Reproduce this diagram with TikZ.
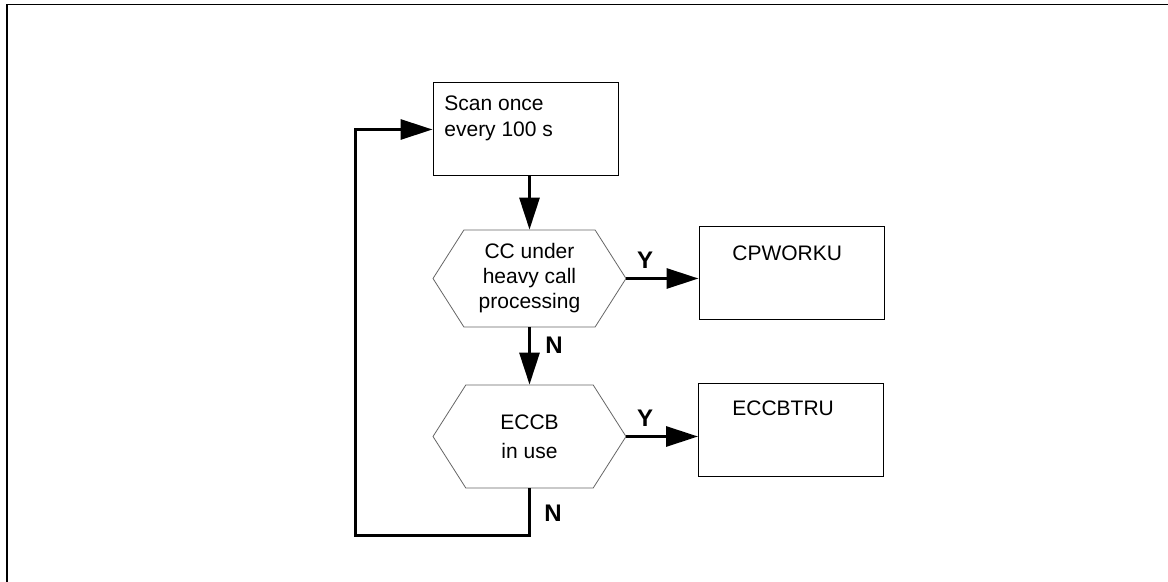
\documentclass[tikz,border=0pt]{standalone}
\usepackage{fontspec}
\setmainfont{Liberation Sans}
\usetikzlibrary{arrows.meta,positioning,shapes.symbols}

\begin{document}
\begin{tikzpicture}[x=0.5pt, y=-0.5pt, >={Triangle[length=16pt,width=10pt]},
  box/.style={draw, line width=0.5pt, minimum width=92.5pt, minimum height=46.5pt, inner sep=0pt},
  hexa/.style={draw=black!60, line width=0.4pt, shape=signal, signal to=west and east,
    signal pointer angle=115, minimum width=96.5pt, minimum height=48.5pt, inner sep=0pt, align=center},
  txt/.style={anchor=north west, inner sep=0pt, align=left, font=\fontsize{10.5}{13}\selectfont},
  flow/.style={->, line width=1.5pt},
  yn/.style={font=\fontsize{12}{14}\bfseries\selectfont, inner sep=0pt}]
\useasboundingbox (0,0) rectangle (1168,582);
\draw[line width=0.6pt] (7,582) -- (7,4.3) -- (1168,4.3);

% boxes
\node[box] (scan) at (525.5,129.5) {};
\node[txt] (scantxt) at (444,95.5) {Scan once\\every 100 s};
\node[box] (cpw) at (791.5,273.5) {};
\node[txt] (cpwtxt) at (732,245) {CPWORKU};
\node[box] (ecc) at (791,430.5) {};
\node[txt] (ecctxt) at (732,400.5) {ECCBTRU};

% decisions
\node[hexa, font=\fontsize{10.5}{12.5}\selectfont] (hex1) at (529.5,278.5)
  {CC under\\heavy call\\processing};
\node[hexa, font=\fontsize{10.5}{14.3}\selectfont, minimum height=51.5pt] (hex2) at (529.5,436.5)
  {ECCB\\in use};

% flow
\draw[flow] (hex1.north |- scan.south) -- (hex1.north);
\draw[flow] (hex1.east) -- (hex1.east -| cpw.west);
\draw[flow] (hex1.south) -- (hex2.north);
\draw[flow] (hex2.east) -- (hex2.east -| ecc.west);
\coordinate (loopbl) at (355,536);
\draw[flow] (hex2.south) |- (loopbl) |- (scan.west);

\node[yn] (y1) at (645,260) {Y};
\node[yn] (y2) at (645,418) {Y};
\node[yn] (n1) at (554,345) {N};
\node[yn] (n2) at (553,513.5) {N};
\end{tikzpicture}
\end{document}
